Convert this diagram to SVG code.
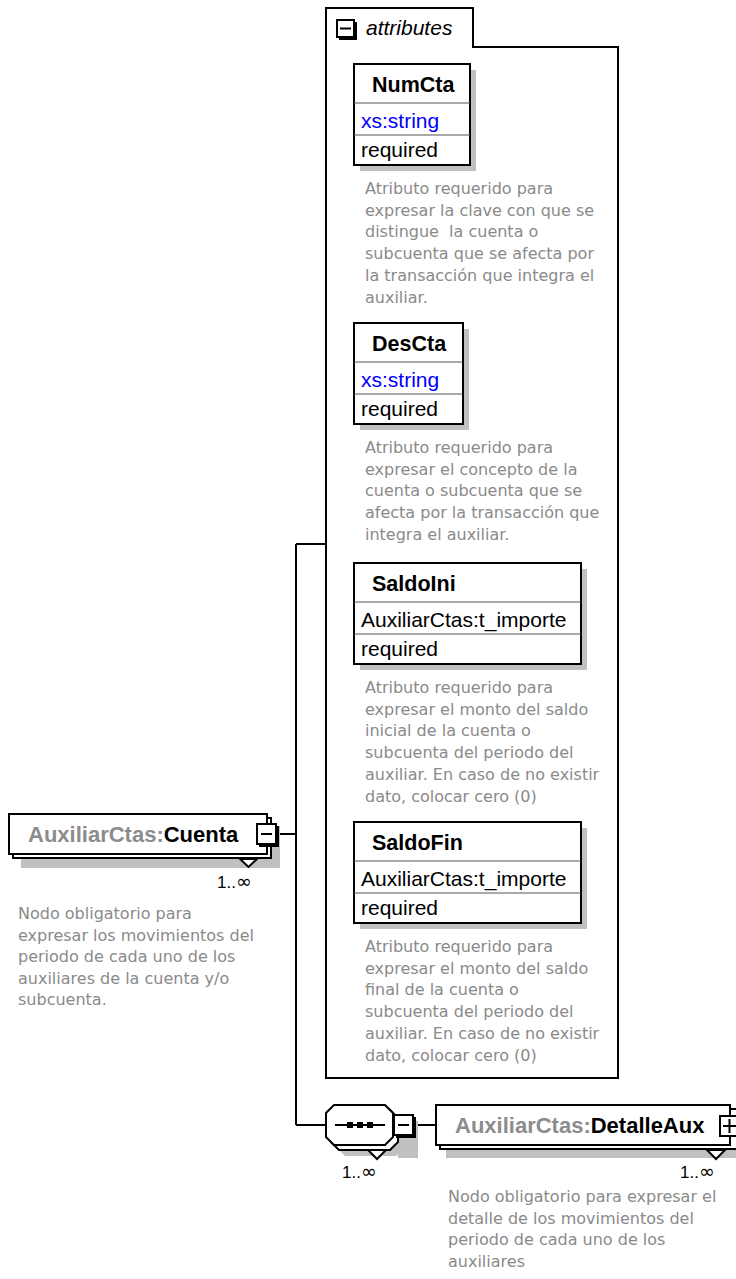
<svg xmlns="http://www.w3.org/2000/svg" width="736" height="1279" viewBox="0 0 736 1279">
<style>
.bx{fill:#fff;stroke:#000;stroke-width:2}
.sh{fill:#c0c0c0;stroke:none}
.dv{stroke:#555;stroke-width:1}
.ln{fill:none;stroke:#000;stroke-width:2}
.ttl{font-family:"Liberation Sans",Arial,sans-serif;font-size:21.5px;font-weight:bold;fill:#000}
.typ{font-family:"Liberation Sans",Arial,sans-serif;font-size:21px;fill:#000}
.blu{fill:#0000ff}
.dsc{font-family:"DejaVu Sans",Tahoma,sans-serif;font-size:16px;fill:#8a8a8a;white-space:pre}
.nm{font-family:"Liberation Sans",Arial,sans-serif;font-size:22px;font-weight:bold}
.pre{fill:#8c8c8c}
.crd{font-family:"Liberation Sans",Arial,sans-serif;font-size:17px;fill:#000}
.inf{font-family:"DejaVu Sans",sans-serif;font-size:19px}
.att{font-family:"Liberation Sans",Arial,sans-serif;font-size:21px;font-style:italic;fill:#000}
</style>

<g id="connectors" class="ln">
<path d="M278,834 H296 M296,544 V1125 M296,544 H326 M296,1125 H326 M416,1125 H436"/>
</g>

<g id="attributes">
<path class="ln" d="M326,1078 V8 H473 V47 H618 V1078 Z"/>
<rect x="337" y="20" width="17" height="17" class="bx"/>
<path class="ln" d="M356,22 V39 H339"/>
<line x1="340" y1="28.5" x2="351" y2="28.5" stroke="#000" stroke-width="2"/>
<text x="366" y="35" class="att">attributes</text>
</g>

<g id="NumCta">
<rect x="360" y="70" width="116" height="101" class="sh"/>
<rect x="354" y="64" width="116" height="101" class="bx"/>
<line x1="354" y1="103" x2="470" y2="103" class="dv"/>
<line x1="354" y1="135" x2="470" y2="135" class="dv"/>
<text x="372" y="92" class="ttl">NumCta</text>
<text x="361" y="128" class="typ blu">xs:string</text>
<text x="361" y="157" class="typ">required</text>
<text class="dsc"><tspan x="365" y="194">Atributo requerido para</tspan><tspan x="365" y="215.7">expresar la clave con que se</tspan><tspan x="365" y="237.4">distingue  la cuenta o</tspan><tspan x="365" y="259.1">subcuenta que se afecta por</tspan><tspan x="365" y="280.8">la transacción que integra el</tspan><tspan x="365" y="302.5">auxiliar.</tspan></text>
</g>

<g id="DesCta">
<rect x="360" y="329" width="109" height="101" class="sh"/>
<rect x="354" y="323" width="109" height="101" class="bx"/>
<line x1="354" y1="362" x2="463" y2="362" class="dv"/>
<line x1="354" y1="394" x2="463" y2="394" class="dv"/>
<text x="372" y="351" class="ttl">DesCta</text>
<text x="361" y="387" class="typ blu">xs:string</text>
<text x="361" y="416" class="typ">required</text>
<text class="dsc"><tspan x="365" y="453">Atributo requerido para</tspan><tspan x="365" y="474.7">expresar el concepto de la</tspan><tspan x="365" y="496.4">cuenta o subcuenta que se</tspan><tspan x="365" y="518.1">afecta por la transacción que</tspan><tspan x="365" y="539.8">integra el auxiliar.</tspan></text>
</g>

<g id="SaldoIni">
<rect x="360" y="569" width="227" height="101" class="sh"/>
<rect x="354" y="563" width="227" height="101" class="bx"/>
<line x1="354" y1="602" x2="581" y2="602" class="dv"/>
<line x1="354" y1="634" x2="581" y2="634" class="dv"/>
<text x="372" y="591" class="ttl">SaldoIni</text>
<text x="361" y="627" class="typ">AuxiliarCtas:t_importe</text>
<text x="361" y="656" class="typ">required</text>
<text class="dsc"><tspan x="365" y="693">Atributo requerido para</tspan><tspan x="365" y="714.7">expresar el monto del saldo</tspan><tspan x="365" y="736.4">inicial de la cuenta o</tspan><tspan x="365" y="758.1">subcuenta del periodo del</tspan><tspan x="365" y="779.8">auxiliar. En caso de no existir</tspan><tspan x="365" y="801.5">dato, colocar cero (0)</tspan></text>
</g>

<g id="SaldoFin">
<rect x="360" y="828" width="227" height="101" class="sh"/>
<rect x="354" y="822" width="227" height="101" class="bx"/>
<line x1="354" y1="861" x2="581" y2="861" class="dv"/>
<line x1="354" y1="893" x2="581" y2="893" class="dv"/>
<text x="372" y="850" class="ttl">SaldoFin</text>
<text x="361" y="886" class="typ">AuxiliarCtas:t_importe</text>
<text x="361" y="915" class="typ">required</text>
<text class="dsc"><tspan x="365" y="952">Atributo requerido para</tspan><tspan x="365" y="973.7">expresar el monto del saldo</tspan><tspan x="365" y="995.4">final de la cuenta o</tspan><tspan x="365" y="1017.1">subcuenta del periodo del</tspan><tspan x="365" y="1038.8">auxiliar. En caso de no existir</tspan><tspan x="365" y="1060.5">dato, colocar cero (0)</tspan></text>
</g>

<g id="Cuenta">
<rect x="21" y="826" width="259" height="42" class="sh"/>
<rect x="13" y="818" width="258" height="40" class="bx"/>
<rect x="9" y="814" width="258" height="40" class="bx"/>
<polygon points="240,859 257,859 248.5,867" class="bx" stroke-width="1.5"/>
<rect x="257" y="824" width="19" height="20" class="bx"/>
<path class="ln" d="M278,826 V846 H259"/>
<line x1="261" y1="834" x2="272" y2="834" stroke="#000" stroke-width="2"/>
<text x="28" y="842" class="nm"><tspan class="pre">AuxiliarCtas:</tspan>Cuenta</text>
<text x="217" y="888" class="crd">1..<tspan class="inf">∞</tspan></text>
<text class="dsc"><tspan x="18" y="919">Nodo obligatorio para</tspan><tspan x="18" y="940.5">expresar los movimientos del</tspan><tspan x="18" y="962">periodo de cada uno de los</tspan><tspan x="18" y="983.5">auxiliares de la cuenta y/o</tspan><tspan x="18" y="1005">subcuenta.</tspan></text>
</g>

<g id="sequence">
<polygon points="345,1116 396,1116 404,1124 404,1148 396,1156 345,1156 337,1148 337,1124" class="sh"/>
<rect x="398" y="1121" width="20" height="37" class="sh"/>
<polygon points="339,1110 390,1110 398,1118 398,1142 390,1150 339,1150 331,1142 331,1118" class="bx"/>
<polygon points="334,1105 385,1105 393,1113 393,1137 385,1145 334,1145 326,1137 326,1113" class="bx"/>
<polygon points="368,1150 386,1150 377,1159" class="bx" stroke-width="1.5"/>
<line x1="335" y1="1125" x2="385" y2="1125" stroke="#000" stroke-width="2"/>
<rect x="347" y="1122" width="6" height="6" fill="#000"/>
<rect x="357" y="1122" width="6" height="6" fill="#000"/>
<rect x="367" y="1122" width="6" height="6" fill="#000"/>
<rect x="394" y="1115" width="19" height="20" class="bx"/>
<path class="ln" d="M415,1117 V1137 H396"/>
<line x1="398" y1="1125" x2="409" y2="1125" stroke="#000" stroke-width="2"/>
<text x="342" y="1178" class="crd">1..<tspan class="inf">∞</tspan></text>
</g>

<g id="DetalleAux">
<rect x="446" y="1115" width="300" height="43" class="sh"/>
<rect x="440" y="1109" width="300" height="40" class="bx"/>
<rect x="436" y="1105" width="294" height="40" class="bx"/>
<polygon points="707,1150 725,1150 716,1159" class="bx" stroke-width="1.5"/>
<rect x="720" y="1116" width="19" height="20" class="bx"/>
<line x1="723" y1="1126" x2="736" y2="1126" stroke="#000" stroke-width="2"/>
<line x1="729.5" y1="1119" x2="729.5" y2="1133" stroke="#000" stroke-width="2"/>
<text x="455" y="1133" class="nm"><tspan class="pre">AuxiliarCtas:</tspan>DetalleAux</text>
<text x="680" y="1178" class="crd">1..<tspan class="inf">∞</tspan></text>
<text class="dsc"><tspan x="448" y="1202">Nodo obligatorio para expresar el</tspan><tspan x="448" y="1223.5">detalle de los movimientos del</tspan><tspan x="448" y="1245">periodo de cada uno de los</tspan><tspan x="448" y="1266.5">auxiliares</tspan></text>
</g>
</svg>
